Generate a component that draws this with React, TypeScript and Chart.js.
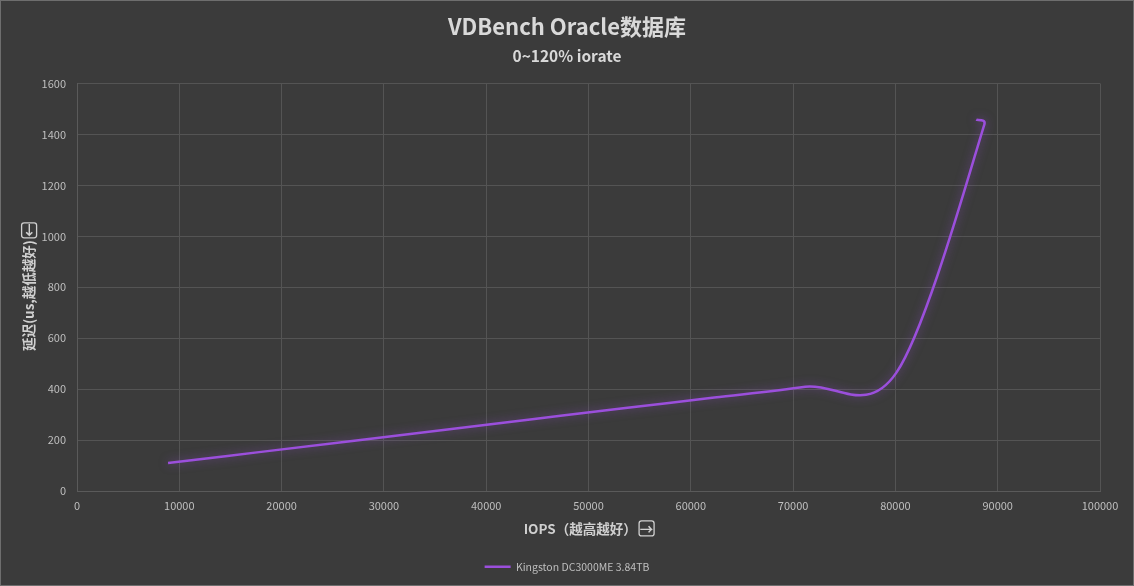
import React, { useEffect, useRef } from "react";
import { Chart, registerables } from "chart.js";

Chart.register(...registerables);

const iops = [8900, 17800, 26700, 35600, 44500, 53400, 62300, 71200, 80100, 88700, 87900];
const latency = [110, 153, 196, 239, 282, 325, 367, 410, 465, 1440, 1458];
const seriesName = "Kingston DC3000ME 3.84TB";
const titleText = "VDBench Oracle数据库";
const subtitleText = "0~120% iorate";
const xTitle = "IOPS（越高越好） →";
const yTitle = "延迟(us,越低越好) ←";

const FONT = "'Noto Sans CJK SC', 'Noto Sans', 'DejaVu Sans', sans-serif";
const AXIS_TITLE_SIZE = 13.5;

// Office-style smoothing: control points from neighbours (capped at 1/6) + soft glow
const smoothGlowPlugin = {
  id: "smoothGlow",
  beforeDatasetDraw(chart: any, args: any) {
    const line = args.meta.dataset;
    line.updateControlPoints(chart.chartArea, "x");
    const pts = line.points;
    const T = 0.65;
    const CAP = 1 / 6;
    for (let i = 0; i < pts.length; i++) {
      const p = pts[i];
      const prev = pts[i - 1] || p;
      const next = pts[i + 1] || p;
      const d01 = Math.hypot(p.x - prev.x, p.y - prev.y);
      const d12 = Math.hypot(next.x - p.x, next.y - p.y);
      const sum = d01 + d12 || 1;
      const fa = Math.min((T * d01) / sum, CAP);
      const fb = Math.min((T * d12) / sum, CAP);
      const dx = next.x - prev.x;
      const dy = next.y - prev.y;
      p.cp1x = p.x - fa * dx;
      p.cp1y = p.y - fa * dy;
      p.cp2x = p.x + fb * dx;
      p.cp2y = p.y + fb * dy;
    }
    const ctx = chart.ctx;
    ctx.save();
    ctx.shadowColor = "rgba(155, 80, 220, 0.55)";
    ctx.shadowBlur = 10;
  },
  afterDatasetDraw(chart: any) {
    chart.ctx.restore();
  },
};

function roundRect(ctx: CanvasRenderingContext2D, x: number, y: number, w: number, h: number, r: number) {
  ctx.beginPath();
  ctx.moveTo(x + r, y);
  ctx.lineTo(x + w - r, y);
  ctx.quadraticCurveTo(x + w, y, x + w, y + r);
  ctx.lineTo(x + w, y + h - r);
  ctx.quadraticCurveTo(x + w, y + h, x + w - r, y + h);
  ctx.lineTo(x + r, y + h);
  ctx.quadraticCurveTo(x, y + h, x, y + h - r);
  ctx.lineTo(x, y + r);
  ctx.quadraticCurveTo(x, y, x + r, y);
  ctx.closePath();
}

// draws a small box around the arrow glyph at the end of each axis title
const arrowBoxPlugin = {
  id: "arrowBox",
  afterDraw(chart: any) {
    const ctx: CanvasRenderingContext2D = chart.ctx;
    const lh = AXIS_TITLE_SIZE * 1.2;
    ctx.save();
    ctx.font = `bold ${AXIS_TITLE_SIZE}px ${FONT}`;
    ctx.strokeStyle = "#d0d0d0";
    ctx.lineWidth = 1.3;
    const box = AXIS_TITLE_SIZE + 1.5;
    const xs = chart.scales.x;
    const xOpt = xs.options.title;
    const xW = ctx.measureText(xOpt.text).width;
    const aW = ctx.measureText("→").width;
    const xcx = (xs.left + xs.right) / 2 + xW / 2 - aW / 2;
    const xcy = xs.bottom - lh / 2 - xOpt.padding.bottom;
    roundRect(ctx, xcx - box / 2, xcy - box / 2, box, box, 2.5);
    ctx.stroke();
    const ys = chart.scales.y;
    const yOpt = ys.options.title;
    const yW = ctx.measureText(yOpt.text).width;
    const dW = ctx.measureText("←").width;
    const ycx = ys.left + yOpt.padding.top + lh / 2;
    const ycy = (ys.top + ys.bottom) / 2 - yW / 2 + dW / 2;
    roundRect(ctx, ycx - box / 2, ycy - box / 2, box, box, 2.5);
    ctx.stroke();
    ctx.restore();
  },
};

export default function App() {
  const ref = useRef<HTMLCanvasElement>(null);
  useEffect(() => {
    document.body.style.margin = "0";
    const chart = new Chart(ref.current!, {
      type: "line",
      data: {
        datasets: [
          {
            label: seriesName,
            data: iops.map((x, i) => ({ x, y: latency[i] })),
            borderColor: "#9b4fdc",
            backgroundColor: "#9b4fdc",
            borderWidth: 2.5,
            pointRadius: 0,
            tension: 0.4,
            fill: false,
          },
        ],
      },
      plugins: [smoothGlowPlugin, arrowBoxPlugin],
      options: {
        animation: false,
        responsive: false,
        maintainAspectRatio: false,
        layout: { padding: { left: 8, right: 8, top: 4, bottom: 3 } },
        plugins: {
          title: {
            display: true,
            text: titleText,
            color: "#d9d9d9",
            font: { family: FONT, size: 22, weight: "bold" },
            padding: { top: 8, bottom: 3 },
          },
          subtitle: {
            display: true,
            text: subtitleText,
            color: "#d9d9d9",
            font: { family: FONT, size: 15.5, weight: "bold" },
            padding: { top: 4, bottom: 18.5 },
          },
          legend: {
            position: "bottom",
            labels: {
              color: "#bfbfbf",
              font: { family: FONT, size: 10.5 },
              usePointStyle: true,
              pointStyle: "line",
              pointStyleWidth: 26,
              padding: 8,
            },
          },
          tooltip: { enabled: false },
        },
        scales: {
          x: {
            type: "linear",
            min: 0,
            max: 100000,
            ticks: {
              stepSize: 10000,
              color: "#bfbfbf",
              font: { family: FONT, size: 11 },
              padding: 8,
              callback: (v: any) => String(v),
            },
            grid: { color: "#545454", drawTicks: false },
            border: { color: "#5a5a5a" },
            title: {
              display: true,
              text: xTitle,
              color: "#d0d0d0",
              font: { family: FONT, size: AXIS_TITLE_SIZE, weight: "bold" },
              padding: { top: 0, bottom: 17 },
            },
          },
          y: {
            min: 0,
            max: 1600,
            afterFit: (s: any) => {
              s.width = 68;
            },
            ticks: {
              stepSize: 200,
              color: "#bfbfbf",
              font: { family: FONT, size: 11 },
              padding: 11,
              callback: (v: any) => String(v),
            },
            grid: { color: "#545454", drawTicks: false },
            border: { color: "#5a5a5a" },
            title: {
              display: true,
              text: yTitle,
              color: "#d0d0d0",
              font: { family: FONT, size: AXIS_TITLE_SIZE, weight: "bold" },
              padding: { top: 12, bottom: 0 },
            },
          },
          yRightSpace: {
            type: "linear",
            position: "right",
            display: true,
            afterFit: (s: any) => {
              s.width = 25;
            },
            ticks: { display: false },
            grid: { drawOnChartArea: false, drawTicks: false },
            border: { display: false },
          },
        },
      },
    });
    return () => chart.destroy();
  }, []);
  return (
    <div
      style={{
        width: 1134,
        height: 586,
        boxSizing: "border-box",
        background: "#3b3b3b",
        border: "1px solid #6e6e6e",
        position: "relative",
      }}
    >
      <canvas ref={ref} width={1132} height={584} style={{ display: "block" }} />
    </div>
  );
}
